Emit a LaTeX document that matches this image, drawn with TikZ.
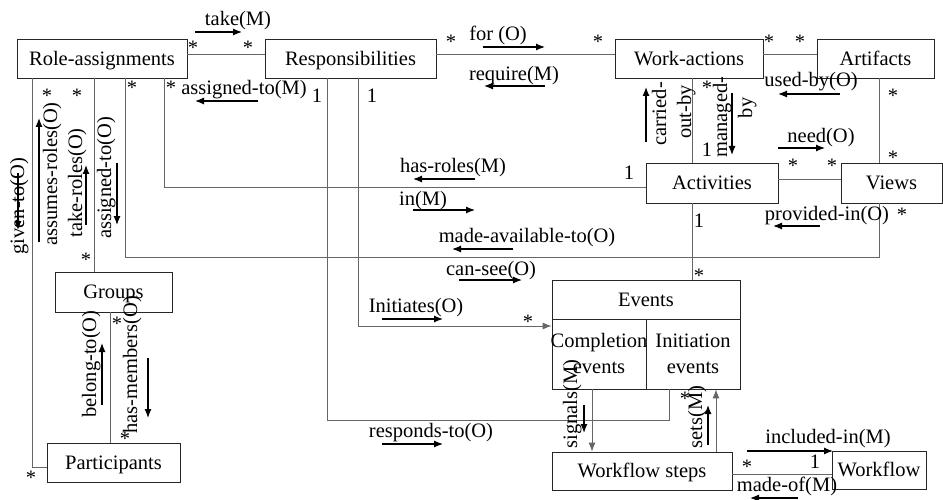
\documentclass[tikz,border=0pt]{standalone}
\usepackage{fontspec}
\setmainfont{Liberation Serif}
\usetikzlibrary{arrows.meta}
\begin{document}
\begin{tikzpicture}[x=1pt,y=-1pt,
  font=\fontsize{20.5}{24.5}\selectfont,
  box/.style={draw=black!85, line width=0.8pt, inner sep=0pt, text height=13.5pt, text depth=0pt},
  conn/.style={draw=black!60, line width=0.9pt},
  head/.style={-{Latex[length=9pt,width=7pt]}},
  lab/.style={inner sep=0pt, anchor=base},
  rlab/.style={inner sep=0pt, anchor=base, rotate=90},
  dirarr/.style={-{Latex[length=9pt,width=7pt]}, line width=1.2pt, black}
]
\useasboundingbox (0,0) rectangle (943,500);

% boxes
\node[box, minimum width=170pt, minimum height=39pt] (ra) at (102,58.5) {Role-assignments};
\node[box, minimum width=171pt, minimum height=39pt] (resp) at (350.5,58.5) {Responsibilities};
\node[box, minimum width=148pt, minimum height=39pt] (wa) at (689,58.5) {Work-actions};
\node[box, minimum width=117pt, minimum height=39pt] (art) at (875.5,58.5) {Artifacts};
\node[box, minimum width=132pt, minimum height=40pt] (act) at (712,183) {Activities};
\node[box, minimum width=101pt, minimum height=40pt] (views) at (891.5,183) {Views};
\node[box, minimum width=117pt, minimum height=40pt] (groups) at (113.5,292) {Groups};
\node[box, minimum width=133pt, minimum height=39pt] (pa) at (113.5,462.5) {Participants};
\node[box, minimum width=180pt, minimum height=38pt] (ws) at (642,471) {Workflow steps};
\node[box, minimum width=94pt, minimum height=38pt] (wf) at (879,470) {Workflow};
\node[box, minimum width=188pt, minimum height=39pt] (evt) at (646,299.5) {Events};
\node[box, minimum width=94pt, minimum height=70pt] (evc) at (599,354) {};
\node[box, minimum width=94pt, minimum height=70pt] (evi) at (693,354) {};
\node[lab] (tc1) at (599,347) {Completion};
\node[lab] (tc2) at (599,373) {events};
\node[lab] (ti1) at (693,347) {Initiation};
\node[lab] (ti2) at (693,373) {events};

% helper coordinates
\coordinate (yA) at (0,54);
\coordinate (xV) at (879,0);
\coordinate (k1) at (164,187);
\coordinate (k2) at (125,257);
\coordinate (k3) at (879,257);
\coordinate (k4) at (94,0);
\coordinate (k5) at (32,467);
\coordinate (k6) at (110,0);
\coordinate (k7) at (358,326);
\coordinate (k8) at (327,420);
\coordinate (k9) at (669,420);
\coordinate (k10) at (592,0);
\coordinate (k11) at (716,0);
\coordinate (k12) at (0,474);
\coordinate (k13) at (692,0);
\coordinate (k14) at (0,179);

% connectors
\draw[conn] (ra.east |- yA) -- (resp.west |- yA);
\draw[conn] (resp.east |- yA) -- (wa.west |- yA);
\draw[conn] (wa.east |- yA) -- (art.west |- yA);
\draw[conn] (art.south -| xV) -- (views.north -| xV);
\draw[conn] (wa.south -| k13) -- (act.north -| k13);
\draw[conn] (act.east |- k14) -- (views.west |- k14);
\draw[conn] (act.south -| k13) -- (evt.north -| k13);
\draw[conn] (ra.south -| k1) -- (k1) -- (act.west |- k1);
\draw[conn] (ra.south -| k2) -- (k2) -- (k3) -- (views.south -| k3);
\draw[conn] (ra.south -| k4) -- (groups.north -| k4);
\draw[conn] (ra.south -| k5) -- (k5) -- (pa.west |- k5);
\draw[conn] (groups.south -| k6) -- (pa.north -| k6);
\draw[conn, head] (resp.south -| k7) -- (k7) -- (evc.west |- k7);
\draw[conn] (resp.south -| k8) -- (k8) -- (k9) -- (evi.south -| k9);
\draw[conn, head] (evc.south -| k10) -- (ws.north -| k10);
\draw[conn, head] (ws.north -| k11) -- (evi.south -| k11);
\draw[conn] (ws.east |- k12) -- (wf.west |- k12);

% horizontal labels
\node[lab] (l1) at (238,26) {take(M)};
\node[lab] (l2) at (244,95) {assigned-to(M)};
\node[lab] (l3) at (498,41) {for (O)};
\node[lab] (l4) at (514,81) {require(M)};
\node[lab] (l5) at (811,87) {used-by(O)};
\node[lab] (l6) at (821,143) {need(O)};
\node[lab] (l7) at (453,173) {has-roles(M)};
\node[lab] (l8) at (423,205) {in(M)};
\node[lab] (l9) at (527,242) {made-available-to(O)};
\node[lab] (l10) at (491,275) {can-see(O)};
\node[lab] (l11) at (416,312) {Initiates(O)};
\node[lab] (l12) at (827,220) {provided-in(O)};
\node[lab] (l13) at (431,437) {responds-to(O)};
\node[lab] (l14) at (828,443) {included-in(M)};
\node[lab] (l15) at (787,491) {made-of(M)};

% rotated labels
\node[rlab] (r1) at (24,206) {given-to(O)};
\node[rlab] (r2) at (57,174) {assumes-roles(O)};
\node[rlab] (r3) at (82,183) {take-roles(O)};
\node[rlab] (r4) at (111,178) {assigned-to(O)};
\node[rlab] (r5) at (666,114) {carried-};
\node[rlab] (r6) at (691,112) {out-by};
\node[rlab] (r7) at (727,117) {managed-};
\node[rlab] (r8) at (752,108) {by};
\node[rlab] (r9) at (577,404) {signals(M)};
\node[rlab] (r10) at (702,417) {sets(M)};
\node[rlab] (r11) at (96,364) {belong-to(O)};
\node[rlab] (r12) at (137,365) {has-members(O)};

% direction arrows
\draw[dirarr] (195,32) -- (242,32);
\draw[dirarr] (258,101) -- (195,101);
\draw[dirarr] (483,47) -- (545,47);
\draw[dirarr] (545,86) -- (484,86);
\draw[dirarr] (840,94) -- (778,94);
\draw[dirarr] (778,148) -- (825,148);
\draw[dirarr] (475,179) -- (413,179);
\draw[dirarr] (413,210) -- (475,210);
\draw[dirarr] (513,249) -- (452,249);
\draw[dirarr] (459,280) -- (522,280);
\draw[dirarr] (382,319) -- (443,319);
\draw[dirarr] (820,226) -- (773,226);
\draw[dirarr] (382,444) -- (443,444);
\draw[dirarr] (747,451) -- (833,451);
\draw[dirarr] (798,498) -- (750,498);
\draw[dirarr] (18,173) -- (18,230);
\draw[dirarr] (39,242) -- (39,118);
\draw[dirarr] (86,225) -- (86,165);
\draw[dirarr] (117,163) -- (117,225);
\draw[dirarr] (646,142) -- (646,87);
\draw[dirarr] (732,93) -- (732,155);
\draw[dirarr] (584,405) -- (584,433);
\draw[dirarr] (708,445) -- (708,405);
\draw[dirarr] (102,405) -- (102,343);
\draw[dirarr] (148,358) -- (148,418);

% multiplicities
\foreach \x/\y [count=\i] in {193/55, 248/55, 451/48.5, 598/48.5, 769/48.5, 800/48.5, 893/103, 893/165, 707/95, 793/173, 832/173, 902/222, 699/282, 528/328, 47/103, 77/103, 86/266, 132/95, 171/95, 117/330, 125/445, 31/484, 685/405, 747/473}
  \node[lab] (s\i) at (\x,\y) {*};
\foreach \x/\y [count=\i] in {317/103, 372/103, 707/157, 629/180, 699/227, 815/468}
  \node[lab] (o\i) at (\x,\y) {1};
\end{tikzpicture}
\end{document}
